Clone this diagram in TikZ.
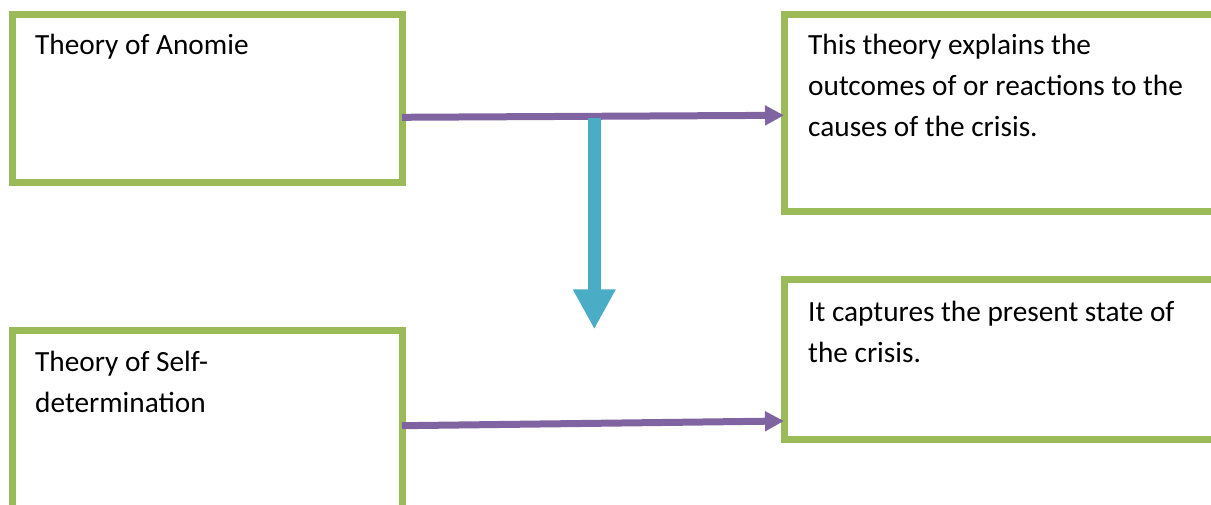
\documentclass[tikz,border=0pt]{standalone}
\usepackage{fontspec}
\setmainfont{Carlito}
\usetikzlibrary{arrows.meta,positioning}

\definecolor{boxgreen}{HTML}{9BBB59}
\definecolor{linkpurple}{HTML}{8064A2}
\definecolor{flowblue}{HTML}{4BACC6}

\tikzset{
  theorybox/.style={draw=boxgreen, line width=7pt, fill=white, rectangle, outer sep=0pt, inner sep=0pt, anchor=north west},
  boxtext/.style={anchor=base west, inner sep=0pt, align=left, font=\fontsize{29.3}{41}\selectfont},
  link/.style={draw=linkpurple, line width=7pt, -{Triangle[length=19pt,width=19pt]}},
  flow/.style={draw=flowblue, line width=13pt, -{Triangle[length=40pt,width=40pt]}},
}

\begin{document}
\begin{tikzpicture}[x=1pt, y=-1pt]

\useasboundingbox (0,0) rectangle (1211,505);

% boxes
\node[theorybox, minimum width=390pt, minimum height=168pt] (anomie) at (12,14.5) {};
\node[theorybox, minimum width=430pt, minimum height=197pt] (outcome) at (784.5,14.5) {};
\node[theorybox, minimum width=430pt, minimum height=159.5pt] (state) at (784.5,280) {};
\node[theorybox, minimum width=390pt, minimum height=200pt] (selfdet) at (12,330.5) {};

% texts (base = last line)
\node[boxtext] (anomietext) at (35,55) {Theory of Anomie};
\node[boxtext] (outcometext) at (808,137) {This theory explains the\\outcomes of or reactions to the\\causes of the crisis.};
\node[boxtext] (statetext) at (808,362) {It captures the present state of\\the crisis.};
\node[boxtext] (selfdettext) at (35,412.5) {Theory of Self-\\determination};

\coordinate (A1) at (402,117.3);
\coordinate (O1) at (784,115.3);
\coordinate (S1) at (402,425.7);
\coordinate (T1) at (784,421);
\coordinate (F1) at (594.3,117.7);
\coordinate (F2) at (594.3,329.3);

\draw[link] (A1) -- (O1);
\draw[link] (S1) -- (T1);
\draw[flow] (F1) -- (F2);

\end{tikzpicture}
\end{document}
